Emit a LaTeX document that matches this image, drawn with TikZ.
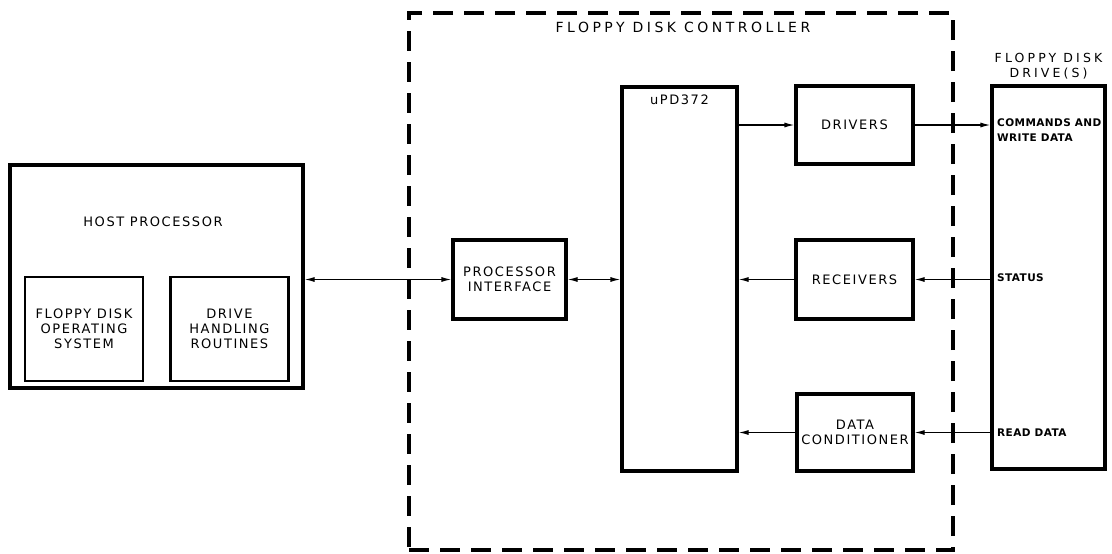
\documentclass[tikz,border=0pt]{standalone}
\usepackage{fontspec}
\setmainfont[LetterSpace=12]{DejaVu Sans}
\newfontfamily\portfont[LetterSpace=4]{DejaVu Sans}
\newfontfamily\wideFont[LetterSpace=25]{DejaVu Sans}
\usetikzlibrary{arrows.meta, positioning}
\tikzset{
  blockbox/.style={rectangle, draw=black, line width=3.2pt, align=center,
    font=\fontsize{13}{15}\selectfont, inner sep=0pt},
  subbox/.style={rectangle, draw=black, line width=2.4pt, align=center,
    font=\fontsize{13}{15}\selectfont, inner sep=0pt,
    minimum width=118pt, minimum height=104pt},
  ctrlbox/.style={rectangle, draw=black, line width=3.5pt,
    dash pattern=on 20pt off 11pt, inner sep=0pt},
  title/.style={font=\fontsize{13}{15}\selectfont, align=center, inner sep=0pt},
  portlbl/.style={font=\portfont\bfseries\fontsize{10.5}{15}\selectfont,
    align=left, inner sep=0pt, anchor=west},
  link/.style={line width=1.2pt},
  arrow/.style={link, -{Latex[length=10pt,width=5pt]}},
  biarrow/.style={link, {Latex[length=10pt,width=5pt]}-{Latex[length=10pt,width=5pt]}}
}
\begin{document}
\begin{tikzpicture}[x=1pt, y=-1pt]
  \useasboundingbox (0,0) rectangle (1112,554);

  % Host side
  \node[blockbox, minimum width=293pt, minimum height=223pt] (host) at (156.5,276.5) {};
  \node[title] (hostlbl) at (153,222) {HOST PROCESSOR};
  \node[subbox] (fdos) at (84,329) {FLOPPY DISK\\OPERATING\\SYSTEM};
  \node[subbox, right=25pt of fdos] (dhr) {DRIVE\\HANDLING\\ROUTINES};

  % Controller
  \node[ctrlbox, minimum width=544pt, minimum height=537pt] (ctrl) at (681,281.5) {};
  \node[title, font=\wideFont\fontsize{14}{15}\selectfont] (ctrllbl) at (683,27) {FLOPPY DISK CONTROLLER};
  \node[blockbox, minimum width=113pt, minimum height=79pt] (pif) at (509.5,279.5) {PROCESSOR\\INTERFACE};
  \node[blockbox, minimum width=115pt, minimum height=384pt] (upd) at (679.5,279) {};
  \node[title, below=9pt of upd.north] (updlbl) {uPD372};
  \node[blockbox, minimum width=117pt, minimum height=78pt] (drv) at (854.5,125) {DRIVERS};
  \node[blockbox, minimum width=117pt, minimum height=79pt] (rcv) at (854.5,279.5) {RECEIVERS};
  \node[blockbox, minimum width=116pt, minimum height=77pt] (dcn) at (855,432.5) {DATA\\CONDITIONER};

  % Drive side
  \node[blockbox, minimum width=113pt, minimum height=383pt] (fdd) at (1048.5,277.5) {};
  \node[title, font=\wideFont\fontsize{12.5}{15}\selectfont, above=5pt of fdd.north] (fddlbl) {FLOPPY DISK\\DRIVE(S)};
  \node[portlbl] (cmd) at (997,130.5) {COMMANDS AND\\WRITE DATA};
  \node[portlbl] (sts) at (997,278) {STATUS};
  \node[portlbl] (rdd) at (997,433) {READ DATA};

  % Connections
  \draw[biarrow] (host.east |- pif.west) -- (pif.west);
  \draw[biarrow] (pif.east) -- (pif.east -| upd.west);
  \draw[arrow] (upd.east |- drv.west) -- (drv.west);
  \draw[arrow] (drv.east) -- (drv.east -| fdd.west);
  \draw[arrow] (fdd.west |- rcv.east) -- (rcv.east);
  \draw[arrow] (rcv.west) -- (rcv.west -| upd.east);
  \draw[arrow] (fdd.west |- dcn.east) -- (dcn.east);
  \draw[arrow] (dcn.west) -- (dcn.west -| upd.east);
\end{tikzpicture}
\end{document}
